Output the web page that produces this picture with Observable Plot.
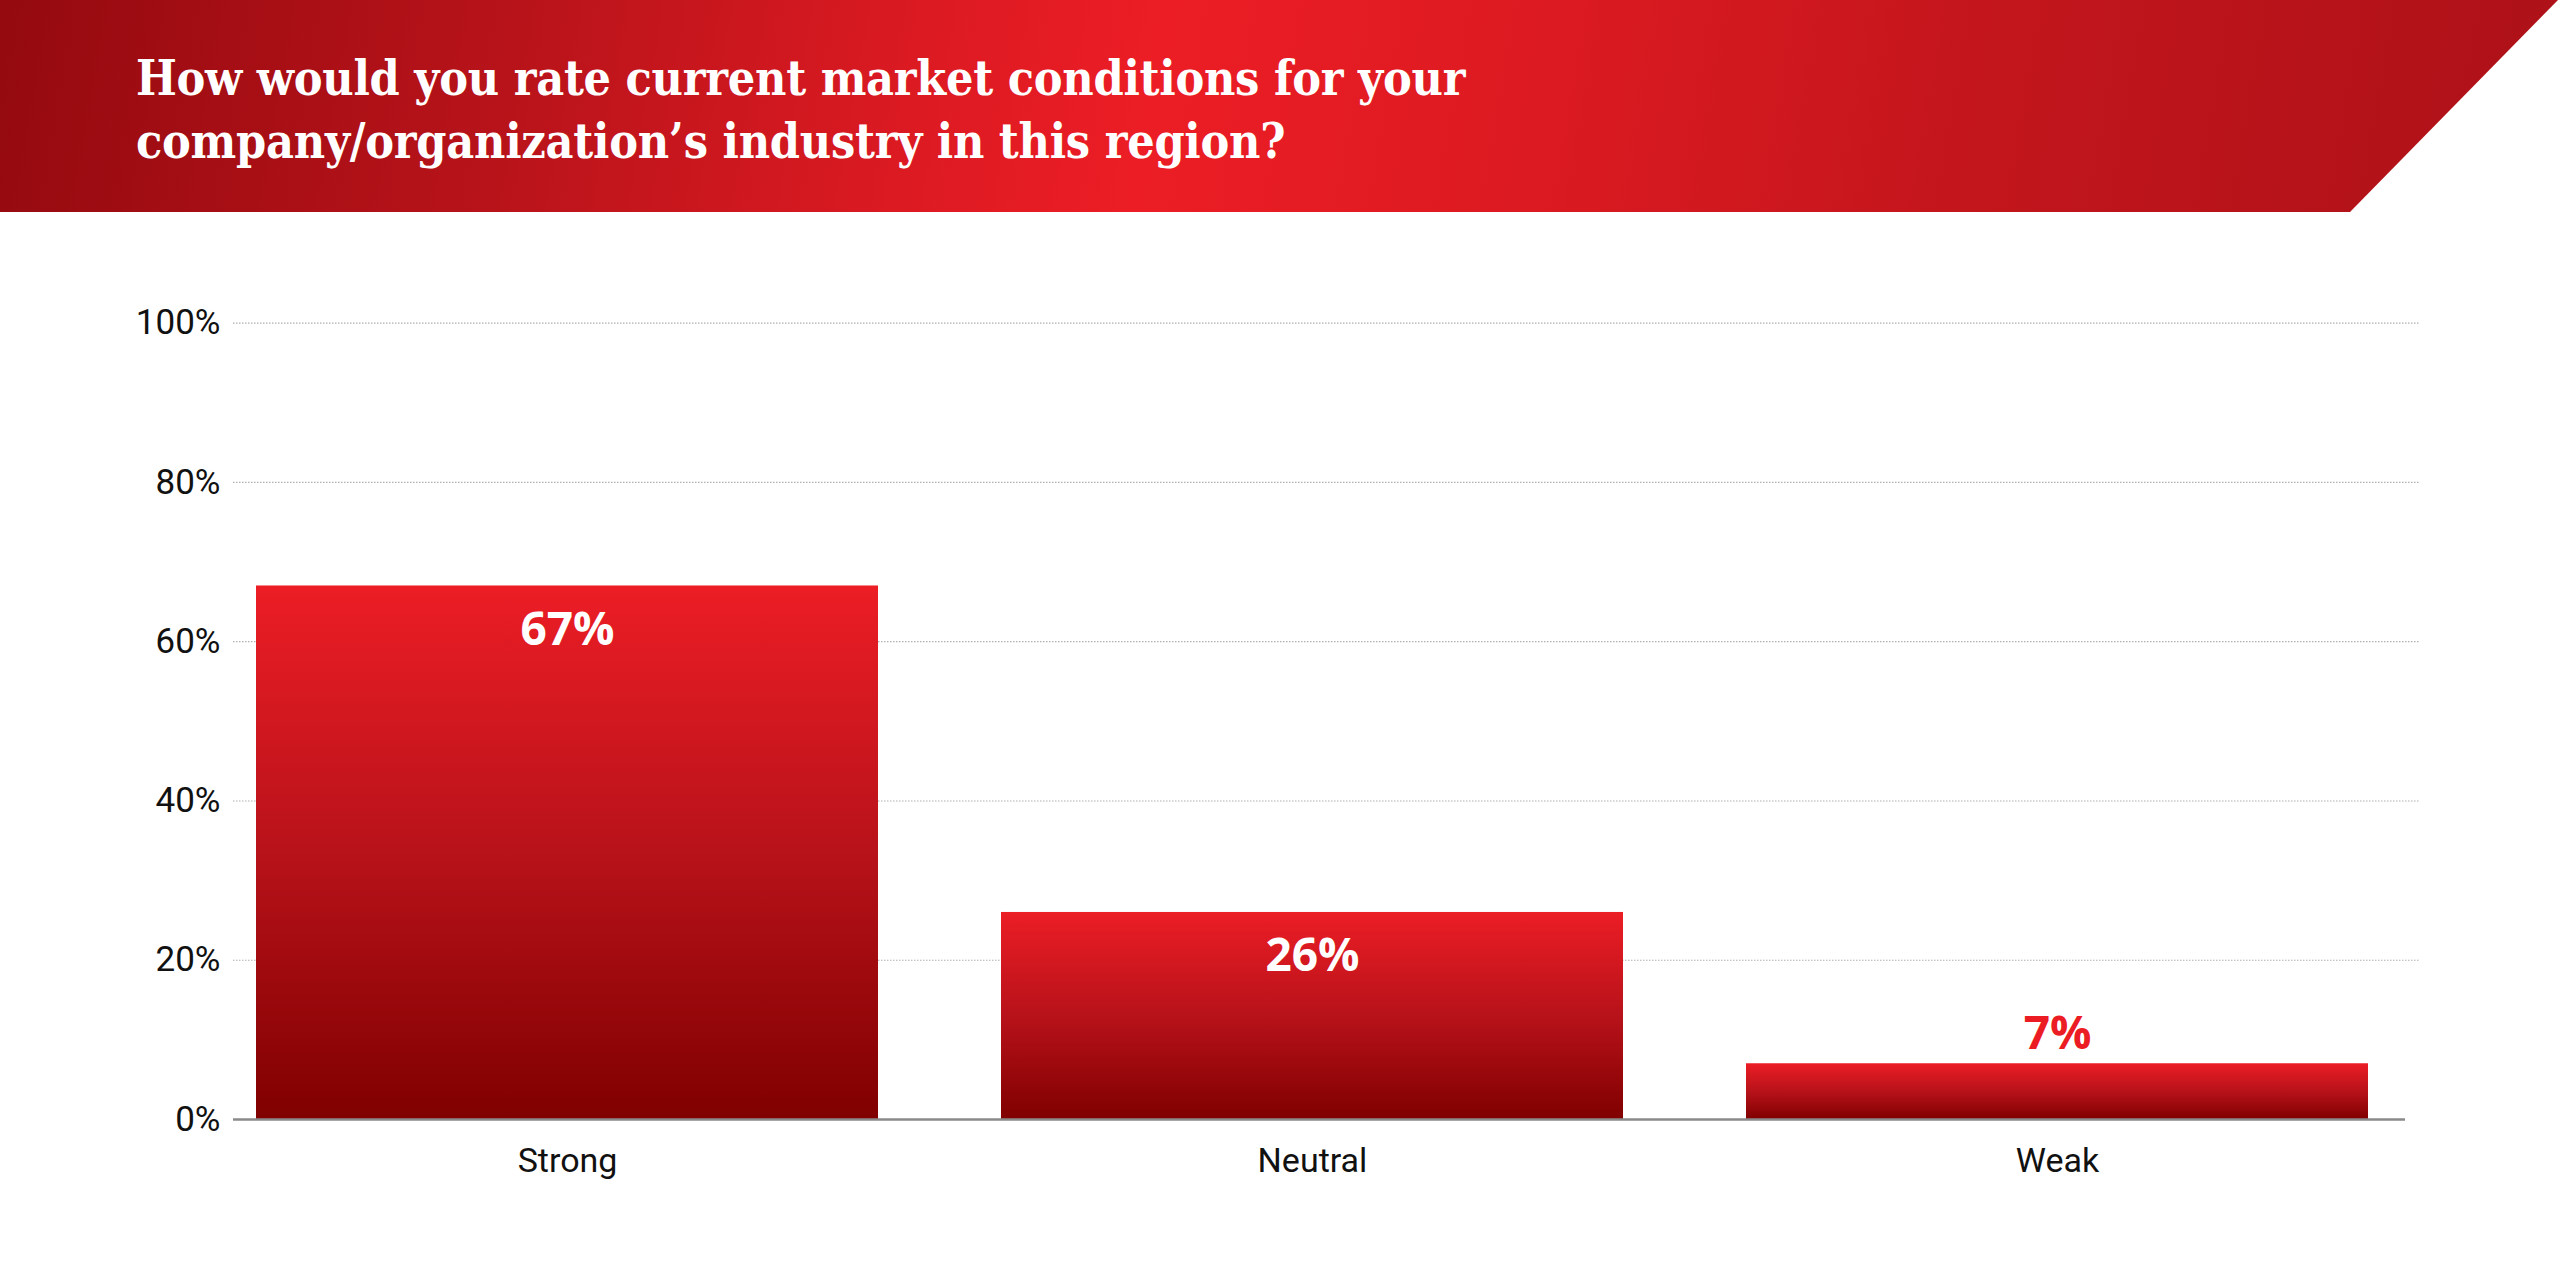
<!DOCTYPE html>
<html>
<head>
<meta charset="utf-8">
<script src="https://cdn.jsdelivr.net/npm/d3@7"></script>
<script src="https://cdn.jsdelivr.net/npm/@observablehq/plot@0.6"></script>
<style>
  html, body { margin: 0; padding: 0; background: #ffffff; }
  body { width: 2560px; height: 1280px; overflow: hidden; }
  #header {
    position: relative;
    width: 2560px;
    height: 212px;
    background: linear-gradient(100deg, #940a0f 0%, #b8131a 20%, #dc1a22 36%, #ec1d25 45%, #dc1a21 60%, #c2151c 78%, #ad1118 100%);
    clip-path: polygon(0 0, 2558px 0, 2350px 212px, 0 212px);
  }
  #title {
    position: absolute;
    left: 136px;
    top: 47px;
    margin: 0;
    color: #ffffff;
    font-family: "DejaVu Serif", serif;
    font-stretch: condensed;
    font-weight: bold;
    font-size: 48px;
    line-height: 63px;
    letter-spacing: -0.25px;
  }
  #chart { display: block; }
</style>
</head>
<body>
<div id="header"><div id="title"></div></div>
<div id="chart"></div>
<script>
const titleLines = [
  "How would you rate current market conditions for your",
  "company/organization\u2019s industry in this region?"
];
const categories = ["Strong", "Neutral", "Weak"];
const values = [67, 26, 7];
const yTicks = [0, 20, 40, 60, 80, 100];

document.getElementById("title").innerHTML = titleLines.join("<br>");

const data = categories.map((c, i) => ({category: c, value: values[i]}));

const defs = () => {
  const d = d3.create("svg:defs");
  const g = d.append("linearGradient").attr("id", "barGrad")
    .attr("x1", 0).attr("y1", 0).attr("x2", 0).attr("y2", 1);
  g.append("stop").attr("offset", "0%").attr("stop-color", "#ec1d25");
  g.append("stop").attr("offset", "50%").attr("stop-color", "#b8121a");
  g.append("stop").attr("offset", "100%").attr("stop-color", "#800000");
  return d.node();
};

const chart = Plot.plot({
  width: 2560,
  height: 1068,
  marginTop: 110.7,
  marginBottom: 161,
  marginLeft: 233,
  marginRight: 155,
  style: {fontFamily: "Roboto, sans-serif", background: "#ffffff", overflow: "visible"},
  x: {domain: categories, paddingInner: 0.1657, paddingOuter: 0.0396, align: 0.38, label: null, axis: null},
  y: {domain: [0, 100], label: null, axis: null},
  marks: [
    defs,
    Plot.ruleY(yTicks.filter(d => d > 0), {stroke: "#b0b0b0", strokeWidth: 1.2, strokeDasharray: "1.5,1.5", insetRight: -14}),
    Plot.barY(data, {x: "category", y: "value", fill: "url(#barGrad)"}),
    Plot.ruleY([0], {stroke: "#8a8a8a", strokeWidth: 2.5}),
    Plot.axisY(yTicks, {tickFormat: d => d + "%", tickSize: 0, tickPadding: 13, fontSize: 35, color: "#111111", label: null}),
    Plot.axisX({tickSize: 0, tickPadding: 28, fontSize: 34, color: "#111111", label: null}),
    Plot.text(data.filter(d => d.value >= 15), {x: "category", y: "value", text: d => d.value + "%", dy: 44, fill: "#ffffff", fontSize: 46, fontWeight: "bold", fontFamily: "Open Sans, sans-serif"}),
    Plot.text(data.filter(d => d.value < 15), {x: "category", y: "value", text: d => d.value + "%", dy: -29, fill: "#ec1c24", fontSize: 46, fontWeight: "bold", fontFamily: "Open Sans, sans-serif"})
  ]
});
document.getElementById("chart").appendChild(chart);
</script>
</body>
</html>
